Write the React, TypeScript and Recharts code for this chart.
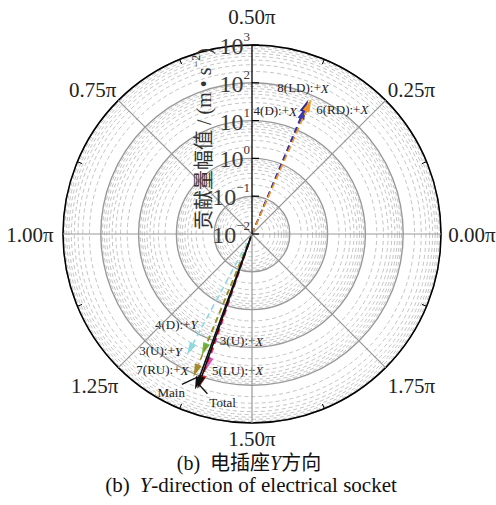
import React from "react";
import { RadarChart, PolarGrid, PolarAngleAxis, PolarRadiusAxis, Radar } from "recharts";

// 贡献量矢量：方向单位 π rad，幅值 m/s²
const arrowNames = ["8(LD):+X", "4(D):+X", "6(RD):+X", "3(U):+Y", "4(D):+Y", "7(RU):+X", "5(LU):+X", "3(U):+X", "Main", "Total"];
const arrowAngles = [0.374, 0.372, 0.368, 1.343, 1.375, 1.376, 1.396, 1.394, 1.388, 1.392];
const arrowMagnitudes = [70, 45, 78, 43, 30, 120, 63, 200, 240, 220];

const angleTicks = [0, 0.125, 0.25, 0.375, 0.5, 0.625, 0.75, 0.875, 1, 1.125, 1.25, 1.375, 1.5, 1.625, 1.75, 1.875];
const radiusTicks = [0.01, 0.1, 1, 10, 100, 1000];
const minorRadiusTicks = radiusTicks.slice(0, -1).flatMap((d) => [2, 3, 4, 5, 6, 7, 8, 9].map((k) => k * d));

const data = arrowNames.map((name, i) => ({ name, angle: arrowAngles[i], value: arrowMagnitudes[i] }));

const SERIF = "'Liberation Serif', 'Times New Roman', 'Noto Sans CJK SC', serif";
const CX = 252;
const CY = 234;
const R = 189;

type Anchor = "start" | "middle" | "end";
const arrowStyle: Record<string, { color: string; dash?: string; label: [number, number, Anchor]; leader?: number[] }> = {
  "8(LD):+X": { color: "#2b2e8f", dash: "6 4", label: [-5, -12, "middle"] },
  "4(D):+X": { color: "#3a3aad", dash: "6 4", label: [-9, 4, "end"] },
  "6(RD):+X": { color: "#f7931e", dash: "6 4", label: [5, 10, "start"] },
  "3(U):+Y": { color: "#8fd8e0", dash: "6 4", label: [-5, -4, "end"] },
  "4(D):+Y": { color: "#66bb44", dash: "6 4", label: [-4, -31, "end"] },
  "7(RU):+X": { color: "#a48a2a", dash: "6 4", label: [-5, -7, "end"] },
  "5(LU):+X": { color: "#d94fc6", dash: "6 4", label: [6, 0, "start"] },
  "3(U):+X": { color: "#e2231a", dash: "6 4", label: [21, -47, "start"] },
  Main: { color: "#111", label: [-10, 3, "end"], leader: [-13, -5, 2, -12] },
  Total: { color: "#111", label: [12, 14, "start"], leader: [10, 5, 0, -6] },
};

const angleLabelNudge: Record<string, [number, number]> = {
  "0": [3, 1], "0.25": [6, 9], "0.5": [0, 0], "0.75": [-6, 9],
  "1": [-5, 1], "1.25": [-4, -1], "1.5": [0, -12], "1.75": [6, -1],
};

const polar = (cx: number, cy: number, r: number, deg: number) => ({
  x: cx + r * Math.cos((deg * Math.PI) / 180),
  y: cy - r * Math.sin((deg * Math.PI) / 180),
});

function AngleTick(props: any) {
  const cx = props.cx ?? CX;
  const cy = props.cy ?? CY;
  const radius = props.radius ?? R;
  const { value, coordinate } = props.payload;
  const isMajor = Math.abs(value * 4 - Math.round(value * 4)) < 1e-6;
  if (!isMajor) {
    const a = polar(cx, cy, radius, coordinate);
    const b = polar(cx, cy, radius - 5, coordinate);
    return <line x1={a.x} y1={a.y} x2={b.x} y2={b.y} stroke="#000" strokeWidth={1} />;
  }
  const edge = polar(cx, cy, radius, coordinate);
  const p = polar(cx, cy, radius + 28, coordinate);
  const nudge = angleLabelNudge[String(value)] ?? [0, 0];
  return (
    <g>
      {value !== 0.5 && <line x1={cx} y1={cy} x2={edge.x} y2={edge.y} stroke="#999" strokeWidth={1.2} />}
      <text x={p.x + nudge[0]} y={p.y + nudge[1]} textAnchor="middle" dominantBaseline="central"
        fontFamily={SERIF} fontSize={21} fill="#222">
        {value.toFixed(2)}π
      </text>
    </g>
  );
}

function RadiusTick(props: any) {
  const { x, y, payload } = props;
  const exp = Math.round(Math.log10(payload.value));
  return (
    <g>
      <line x1={x} y1={y} x2={x + 7} y2={y} stroke="#000" strokeWidth={1.2} />
      <text x={x - 2} y={y + 1} textAnchor="end" dominantBaseline="central" fontFamily={SERIF} fontSize={24} fill="#3a3a3a">
        10<tspan dy={-10} fontSize={13}>{exp < 0 ? "−" + -exp : String(exp)}</tspan>
      </text>
    </g>
  );
}

function ArrowShape(props: any) {
  const pts: any[] = props.points ?? [];
  return (
    <g>
      {pts.map((p, i) => {
        const name = p.payload.name as string;
        const st = arrowStyle[name];
        const dx = p.x - p.cx;
        const dy = p.y - p.cy;
        const len = Math.hypot(dx, dy) || 1;
        const ux = dx / len;
        const uy = dy / len;
        const L = 13;
        const W = 3.6;
        const bx = p.x - ux * L;
        const by = p.y - uy * L;
        const head = `${p.x},${p.y} ${bx - uy * W},${by + ux * W} ${bx + uy * W},${by - ux * W}`;
        const italic = /[XY]$/.test(name);
        const [lx, ly, anchor] = st.label;
        return (
          <g key={i}>
            <line x1={p.cx} y1={p.cy} x2={bx} y2={by} stroke={st.color} strokeWidth={1.6} strokeDasharray={st.dash} />
            <polygon points={head} fill={st.color} />
            {st.leader && (
              <line x1={p.x + st.leader[0]} y1={p.y + st.leader[1]} x2={p.x + st.leader[2]} y2={p.y + st.leader[3]}
                stroke="#111" strokeWidth={1.3} />
            )}
            <text x={p.x + lx} y={p.y + ly} textAnchor={anchor} dominantBaseline="central" fontFamily={SERIF} fontSize={13} fill="#222">
              {italic ? name.slice(0, -1) : name}
              {italic && <tspan fontStyle="italic">{name.slice(-1)}</tspan>}
            </text>
          </g>
        );
      })}
    </g>
  );
}

export default function App() {
  return (
    <div style={{ position: "absolute", left: 0, top: 0, width: 496, height: 505, background: "#fff" }}>
      <RadarChart width={496} height={505} data={data} cx={CX} cy={CY} innerRadius={0} outerRadius={R}
        startAngle={0} endAngle={360} margin={{ top: 0, right: 0, bottom: 0, left: 0 }}>
        <PolarGrid radiusAxisId="minor" gridType="circle" radialLines={false} stroke="#c4c4c4" strokeDasharray="4 3" />
        <PolarGrid radiusAxisId={0} gridType="circle" radialLines={false} stroke="#999" strokeWidth={1.4} />
        <PolarAngleAxis dataKey="angle" type="number" domain={[0, 2]} ticks={angleTicks} tick={<AngleTick />}
          tickLine={false} axisLineType="circle" axisLine={{ stroke: "#000", strokeWidth: 1.5 }} />
        <PolarRadiusAxis radiusAxisId="minor" angle={90} scale="log" type="number" domain={[0.01, 1000]}
          allowDataOverflow ticks={minorRadiusTicks} tick={false} axisLine={false} />
        <PolarRadiusAxis radiusAxisId={0} angle={90} scale="log" type="number" domain={[0.01, 1000]}
          allowDataOverflow ticks={radiusTicks} tick={<RadiusTick />} axisLine={{ stroke: "#000", strokeWidth: 1.3 }} />
        <Radar dataKey="value" isAnimationActive={false} shape={(p: any) => <ArrowShape {...p} />} />
      </RadarChart>
      <svg width={496} height={505} style={{ position: "absolute", left: 0, top: 0, pointerEvents: "none" }}>
        <text transform="translate(204,139) rotate(-90)" textAnchor="middle" dominantBaseline="central"
          fontFamily={SERIF} fontSize={20} fill="#333">
          贡献量幅值 / (m • s<tspan dy={-8} fontSize={12}>−2</tspan><tspan dy={8}>)</tspan>
        </text>
        <text x={249} y={463} textAnchor="middle" dominantBaseline="central" fontFamily={SERIF} fontSize={20} fill="#111">
          (b)<tspan dx={10}>电插座</tspan><tspan fontStyle="italic">Y</tspan>方向
        </text>
        <text x={251} y={485} textAnchor="middle" dominantBaseline="central" fontFamily={SERIF} fontSize={21} fill="#111">
          (b)<tspan dx={10} fontStyle="italic">Y</tspan>-direction of electrical socket
        </text>
      </svg>
    </div>
  );
}
